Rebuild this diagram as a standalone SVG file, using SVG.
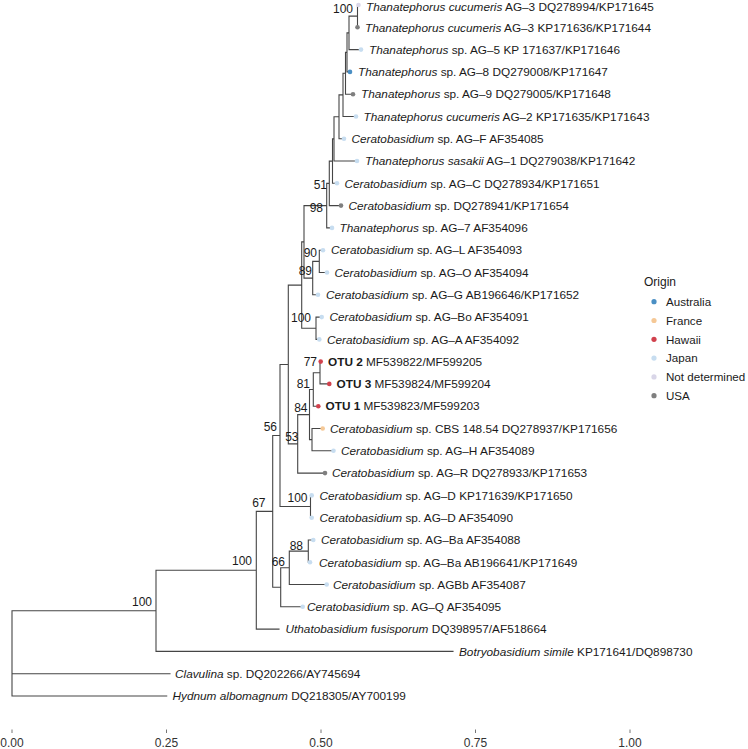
<svg xmlns="http://www.w3.org/2000/svg" width="748" height="749" viewBox="0 0 748 749">
<style>
text{font-family:"Liberation Sans",Arial,Helvetica,sans-serif;font-size:12px;fill:#1a1a1a}
.tl{font-size:11.8px}
.i{font-style:italic}
.b{font-weight:bold}
.nl{font-size:12px;text-anchor:end;fill:#1a1a1a}
.ax{font-size:12px;text-anchor:middle;fill:#333}
.lg{font-size:11.6px}
.br{fill:none;stroke:#454545;stroke-width:1.1;stroke-linecap:square}
.tk{stroke:#666;stroke-width:0.9}
.au{fill:#4A8FC4}.fr{fill:#F5C896}.hw{fill:#D1414D}.jp{fill:#C7DDF0}.nd{fill:#D9D6E8}.us{fill:#7F7F7F}
</style>
<rect width="748" height="749" fill="#fff"/>
<g id="connectors">
<path class="br" d="
M357.5,5 V27.3 M357.5,5 H358.5
M349,16.1 V49.6 M349,16.1 H357.5 M349,49.6 H361
M347,32.9 V71.9 M347,32.9 H349 M347,71.9 H350
M345.5,52.4 V94.2 M345.5,52.4 H347 M345.5,94.2 H353
M343,73.3 V116.5 M343,73.3 H345.5 M343,116.5 H356
M339,94.9 V138.7 M339,94.9 H343 M339,138.7 H344
M334,116.8 V161 M334,116.8 H339 M334,161 H357
M332.5,138.9 V183.3 M332.5,138.9 H334 M332.5,183.3 H337
M329.3,161.1 V205.6 M329.3,161.1 H332.5 M329.3,205.6 H341
M326.7,183.4 V227.9 M326.7,183.4 H329.3 M326.7,227.9 H332
M319.3,250.2 V272.5 M319.3,250.2 H323 M319.3,272.5 H327
M312.7,261.4 V294.8 M312.7,261.4 H319.3 M312.7,294.8 H318
M304,205.65 V278.1 M304,205.65 H326.7 M304,278.1 H312.7
M316,317.1 V339.4 M316,317.1 H321.7 M316,339.4 H319.3
M301.7,241.9 V328.25 M301.7,241.9 H304 M301.7,328.25 H316
M320,361.6 V383.9 M320,361.6 H320.7 M320,383.9 H329.3
M313.3,372.75 V406.2 M313.3,372.75 H320 M313.3,406.2 H318.3
M312,428.5 V450.8 M312,428.5 H322.7 M312,450.8 H333.5
M309.5,389.5 V439.65 M309.5,389.5 H313.3 M309.5,439.65 H312
M297.7,414.6 V473.1 M297.7,414.6 H309.5 M297.7,473.1 H325
M288.3,285.1 V443.85 M288.3,285.1 H301.7 M288.3,443.85 H297.7
M310.5,495.4 V517.7 M310.5,495.4 H311.7 M310.5,517.7 H311.7
M280,364.5 V506.55 M280,364.5 H288.3 M280,506.55 H310.5
M308.3,540 V562.3 M308.3,540 H313.3 M308.3,562.3 H310
M289.3,551.15 V584.5 M289.3,551.15 H308.3 M289.3,584.5 H326.7
M280.7,567.8 V606.8 M280.7,567.8 H289.3 M280.7,606.8 H302.7
M272.7,435.5 V587.3 M272.7,435.5 H280 M272.7,587.3 H280.7
M256.3,511.4 V629.1 M256.3,511.4 H272.7 M256.3,629.1 H279
M156,570.25 V651.4 M156,570.25 H256.3 M156,651.4 H453
M12,610.8 V696 M12,610.8 H156 M12,673.7 H170 M12,696 H166.7"/>
</g>
<g id="support">
<text class="nl" x="353" y="12.5">100</text>
<text class="nl" x="327" y="189">51</text>
<text class="nl" x="323" y="212">98</text>
<text class="nl" x="317" y="257">90</text>
<text class="nl" x="312" y="274.5">89</text>
<text class="nl" x="311" y="322">100</text>
<text class="nl" x="317" y="366">77</text>
<text class="nl" x="310" y="388">81</text>
<text class="nl" x="307.5" y="412">84</text>
<text class="nl" x="298.5" y="441">53</text>
<text class="nl" x="277" y="431">56</text>
<text class="nl" x="307.5" y="502">100</text>
<text class="nl" x="265.5" y="506.5">67</text>
<text class="nl" x="303" y="550">88</text>
<text class="nl" x="285" y="566">66</text>
<text class="nl" x="252" y="564.5">100</text>
<text class="nl" x="152" y="606">100</text>
</g>
<g id="tips">
<g id="t0"><circle class="nd" cx="358.5" cy="5" r="2.3"/><text class="tl" x="366" y="10.8"><tspan class="i">Thanatephorus cucumeris</tspan> AG–3 DQ278994/KP171645</text></g>
<g id="t1"><circle class="us" cx="357.5" cy="27.3" r="2.3"/><text class="tl" x="365" y="31.5"><tspan class="i">Thanatephorus cucumeris</tspan> AG–3 KP171636/KP171644</text></g>
<g id="t2"><circle class="jp" cx="361" cy="49.6" r="2.3"/><text class="tl" x="369" y="53.8"><tspan class="i">Thanatephorus</tspan> sp. AG–5 KP 171637/KP171646</text></g>
<g id="t3"><circle class="au" cx="350" cy="71.9" r="2.3"/><text class="tl" x="358" y="76.1"><tspan class="i">Thanatephorus</tspan> sp. AG–8 DQ279008/KP171647</text></g>
<g id="t4"><circle class="us" cx="353" cy="94.2" r="2.3"/><text class="tl" x="361" y="98.4"><tspan class="i">Thanatephorus</tspan> sp. AG–9 DQ279005/KP171648</text></g>
<g id="t5"><circle class="jp" cx="356" cy="116.5" r="2.3"/><text class="tl" x="363.5" y="120.7"><tspan class="i">Thanatephorus cucumeris</tspan> AG–2 KP171635/KP171643</text></g>
<g id="t6"><circle class="jp" cx="344" cy="138.7" r="2.3"/><text class="tl" x="351.5" y="142.9"><tspan class="i">Ceratobasidium</tspan> sp. AG–F AF354085</text></g>
<g id="t7"><circle class="jp" cx="357" cy="161" r="2.3"/><text class="tl" x="365" y="165.2"><tspan class="i">Thanatephorus sasakii</tspan> AG–1 DQ279038/KP171642</text></g>
<g id="t8"><circle class="jp" cx="337" cy="183.3" r="2.3"/><text class="tl" x="344.5" y="187.5"><tspan class="i">Ceratobasidium</tspan> sp. AG–C DQ278934/KP171651</text></g>
<g id="t9"><circle class="us" cx="341" cy="205.6" r="2.3"/><text class="tl" x="348.5" y="209.8"><tspan class="i">Ceratobasidium</tspan> sp. DQ278941/KP171654</text></g>
<g id="t10"><circle class="jp" cx="332" cy="227.9" r="2.3"/><text class="tl" x="339.5" y="232.1"><tspan class="i">Thanatephorus</tspan> sp. AG–7 AF354096</text></g>
<g id="t11"><circle class="jp" cx="323" cy="250.2" r="2.3"/><text class="tl" x="331" y="254.4"><tspan class="i">Ceratobasidium</tspan> sp. AG–L AF354093</text></g>
<g id="t12"><circle class="jp" cx="327" cy="272.5" r="2.3"/><text class="tl" x="334.5" y="276.7"><tspan class="i">Ceratobasidium</tspan> sp. AG–O AF354094</text></g>
<g id="t13"><circle class="jp" cx="318" cy="294.8" r="2.3"/><text class="tl" x="326" y="299"><tspan class="i">Ceratobasidium</tspan> sp. AG–G AB196646/KP171652</text></g>
<g id="t14"><circle class="jp" cx="321.7" cy="317.1" r="2.3"/><text class="tl" x="329.5" y="321.3"><tspan class="i">Ceratobasidium</tspan> sp. AG–Bo AF354091</text></g>
<g id="t15"><circle class="jp" cx="319.3" cy="339.4" r="2.3"/><text class="tl" x="327" y="343.6"><tspan class="i">Ceratobasidium</tspan> sp. AG–A AF354092</text></g>
<g id="t16"><circle class="hw" cx="320.7" cy="361.6" r="2.3"/><text class="tl" x="328" y="365.8"><tspan class="b">OTU 2</tspan> MF539822/MF599205</text></g>
<g id="t17"><circle class="hw" cx="329.3" cy="383.9" r="2.3"/><text class="tl" x="336.5" y="388.1"><tspan class="b">OTU 3</tspan> MF539824/MF599204</text></g>
<g id="t18"><circle class="hw" cx="318.3" cy="406.2" r="2.3"/><text class="tl" x="325.5" y="410.4"><tspan class="b">OTU 1</tspan> MF539823/MF599203</text></g>
<g id="t19"><circle class="fr" cx="322.7" cy="428.5" r="2.3"/><text class="tl" x="330" y="432.7"><tspan class="i">Ceratobasidium</tspan> sp. CBS 148.54 DQ278937/KP171656</text></g>
<g id="t20"><circle class="jp" cx="333.5" cy="450.8" r="2.3"/><text class="tl" x="341" y="455"><tspan class="i">Ceratobasidium</tspan> sp. AG–H AF354089</text></g>
<g id="t21"><circle class="us" cx="325" cy="473.1" r="2.3"/><text class="tl" x="332" y="477.3"><tspan class="i">Ceratobasidium</tspan> sp. AG–R DQ278933/KP171653</text></g>
<g id="t22"><circle class="jp" cx="311.7" cy="495.4" r="2.3"/><text class="tl" x="319.5" y="499.6"><tspan class="i">Ceratobasidium</tspan> sp. AG–D KP171639/KP171650</text></g>
<g id="t23"><circle class="jp" cx="311.7" cy="517.7" r="2.3"/><text class="tl" x="319.5" y="521.9"><tspan class="i">Ceratobasidium</tspan> sp. AG–D AF354090</text></g>
<g id="t24"><circle class="jp" cx="313.3" cy="540" r="2.3"/><text class="tl" x="321" y="544.2"><tspan class="i">Ceratobasidium</tspan> sp. AG–Ba AF354088</text></g>
<g id="t25"><circle class="jp" cx="310" cy="562.3" r="2.3"/><text class="tl" x="319" y="566.5"><tspan class="i">Ceratobasidium</tspan> sp. AG–Ba AB196641/KP171649</text></g>
<g id="t26"><circle class="jp" cx="326.7" cy="584.5" r="2.3"/><text class="tl" x="333" y="588.7"><tspan class="i">Ceratobasidium</tspan> sp. AGBb AF354087</text></g>
<g id="t27"><circle class="jp" cx="302.7" cy="606.8" r="2.3"/><text class="tl" x="307" y="611"><tspan class="i">Ceratobasidium</tspan> sp. AG–Q AF354095</text></g>
<g id="t28"><text class="tl" x="285.5" y="633.3"><tspan class="i">Uthatobasidium fusisporum</tspan> DQ398957/AF518664</text></g>
<g id="t29"><text class="tl" x="459" y="655.6"><tspan class="i">Botryobasidium simile</tspan> KP171641/DQ898730</text></g>
<g id="t30"><text class="tl" x="175" y="677.9"><tspan class="i">Clavulina</tspan> sp. DQ202266/AY745694</text></g>
<g id="t31"><text class="tl" x="172.5" y="700.2"><tspan class="i">Hydnum albomagnum</tspan> DQ218305/AY700199</text></g>
</g>
<g id="axis">
<path class="tk" d="M12,729.5 V733 M166.5,729.5 V733 M321,729.5 V733 M475.5,729.5 V733 M630,729.5 V733"/>
<text class="ax" x="12" y="747">0.00</text>
<text class="ax" x="166.5" y="747">0.25</text>
<text class="ax" x="321" y="747">0.50</text>
<text class="ax" x="475.5" y="747">0.75</text>
<text class="ax" x="630" y="747">1.00</text>
</g>
<g id="legend">
<text x="644" y="286" style="font-size:12px">Origin</text>
<circle class="au" cx="654" cy="301.7" r="2.6"/><text class="lg" x="666" y="305.9">Australia</text>
<circle class="fr" cx="654" cy="320.5" r="2.6"/><text class="lg" x="666" y="324.7">France</text>
<circle class="hw" cx="654" cy="339.3" r="2.6"/><text class="lg" x="666" y="343.5">Hawaii</text>
<circle class="jp" cx="654" cy="358.1" r="2.6"/><text class="lg" x="666" y="362.3">Japan</text>
<circle class="nd" cx="654" cy="376.9" r="2.6"/><text class="lg" x="666" y="381.1">Not determined</text>
<circle class="us" cx="654" cy="395.7" r="2.6"/><text class="lg" x="666" y="399.9">USA</text>
</g>
</svg>
